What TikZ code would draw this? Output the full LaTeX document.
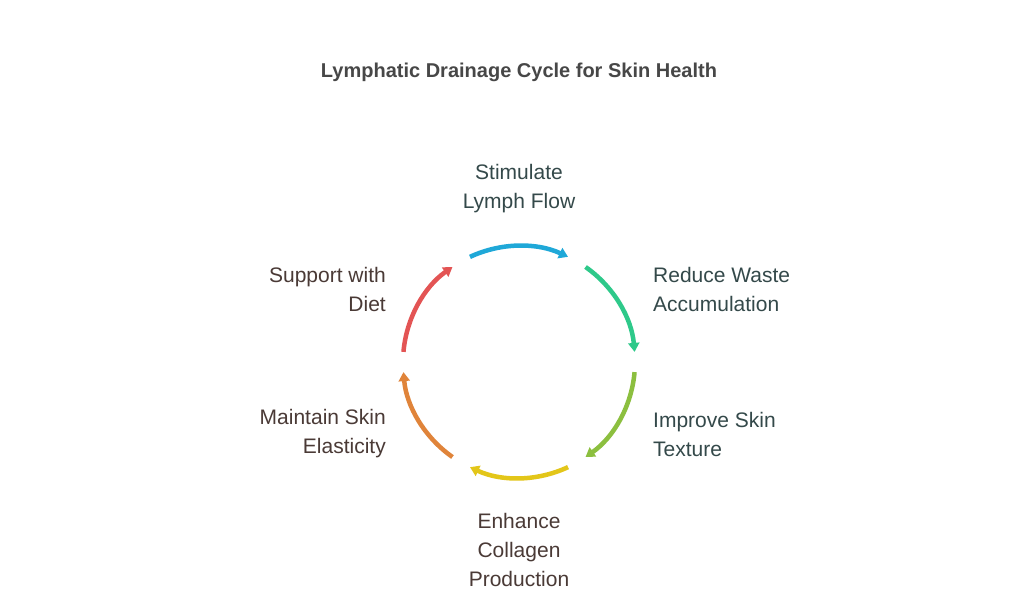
\documentclass[tikz,border=0pt]{standalone}
\usepackage{fontspec}
\setmainfont{Liberation Sans}
\usetikzlibrary{arrows.meta,calc}
\definecolor{cA}{HTML}{1FA8D8}
\definecolor{cB}{HTML}{2EC98A}
\definecolor{cC}{HTML}{8CBF3F}
\definecolor{cD}{HTML}{E3C619}
\definecolor{cE}{HTML}{E0843A}
\definecolor{cF}{HTML}{E35454}
\definecolor{txtA}{HTML}{34494A}
\definecolor{txtB}{HTML}{4A3A36}
\begin{document}
\begin{tikzpicture}[x=1pt,y=1pt,
  lbl/.style={font=\fontsize{21}{29}\selectfont,align=center,inner sep=0pt},
  arcst/.style={line width=4.5pt,-{Triangle[length=9pt,width=11pt]}}]
\useasboundingbox[fill=white] (0,0) rectangle (1024,614);
\node[font=\bfseries\fontsize{20}{24}\selectfont,text=black!72] (title) at (519,542) {Lymphatic Drainage Cycle for Skin Health};
\coordinate (c) at (519,252);
\foreach \ang/\col in {90/cA,30/cB,-30/cC,-90/cD,-150/cE,150/cF}{
  \draw[arcst,\col] ($(c)+(\ang+25:116)$) arc[start angle=\ang+25,end angle=\ang-25,radius=116];
}
\node[lbl,text=txtA,anchor=center] (l1) at (519,425) {Stimulate\\Lymph Flow};
\node[lbl,text=txtA,anchor=west,align=left] (l2) at (653,325) {Reduce Waste\\Accumulation};
\node[lbl,text=txtA,anchor=west,align=left] (l3) at (653,180) {Improve Skin\\Texture};
\node[lbl,text=txtB,anchor=center] (l4) at (519,64) {Enhance\\Collagen\\Production};
\node[lbl,text=txtB,anchor=east,align=right] (l5) at (386,180) {Maintain Skin\\Elasticity};
\node[lbl,text=txtB,anchor=east,align=right] (l6) at (386,325) {Support with\\Diet};
\end{tikzpicture}
\end{document}
